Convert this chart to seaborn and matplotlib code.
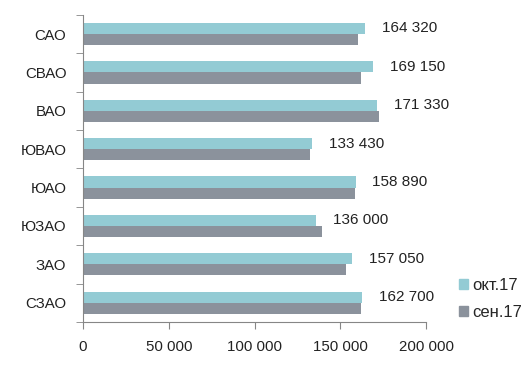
import numpy as np
import pandas as pd
import matplotlib
matplotlib.use('Agg')
import matplotlib.pyplot as plt
from matplotlib.ticker import FuncFormatter
import seaborn as sns

# ---------------------------------------------------------------------------
# Data
# ---------------------------------------------------------------------------

districts = ['САО', 'СВАО', 'ВАО', 'ЮВАО', 'ЮАО', 'ЮЗАО', 'ЗАО', 'СЗАО']
oct_17    = [164320, 169150, 171330, 133430, 158890, 136000, 157050, 162700]
sep_17    = [160200, 161900, 172400, 132400, 158400, 139400, 153200, 161900]
series    = ['окт.17', 'сен.17']
colors    = ['#93CBD4', '#8B929C']

df = pd.DataFrame({
    'district': districts * 2,
    'value'   : oct_17 + sep_17,
    'period'  : [series[0]] * len(districts) + [series[1]] * len(districts),
})

# ---------------------------------------------------------------------------
# Chart
# ---------------------------------------------------------------------------

sns.set_style('white')
plt.rcParams['font.family'] = ['Liberation Sans', 'DejaVu Sans']

fig, ax = plt.subplots(figsize=(5.26, 3.81), dpi=100)
fig.subplots_adjust(left=0.158, right=0.81, top=0.961, bottom=0.155)

sns.barplot(data=df, y='district', x='value', hue='period',
            order=districts, hue_order=series, palette=colors,
            orient='h', width=0.58, saturation=1, linewidth=0,
            ax=ax, legend=False)

def thousands(v, pos=None):
    return f'{int(round(v)):,}'.replace(',', ' ')

ax.bar_label(ax.containers[0], labels=[thousands(v) for v in oct_17],
             padding=12, fontsize=11, color='#222222')

ax.set_xlim(0, 200000)
ax.set_xticks(np.arange(0, 200001, 50000))
ax.xaxis.set_major_formatter(FuncFormatter(thousands))
ax.set_ylim(len(districts) - 0.5, -0.5)
ax.set_yticks(np.arange(-0.5, len(districts), 1), minor=True)
ax.set_xlabel('')
ax.set_ylabel('')

for s in ['top', 'right']:
    ax.spines[s].set_visible(False)
for s in ['left', 'bottom']:
    ax.spines[s].set_color('#868686')
    ax.spines[s].set_linewidth(0.8)

ax.tick_params(axis='y', which='major', length=0, labelsize=10.8, pad=12, labelcolor='#222222')
ax.tick_params(axis='y', which='minor', length=5, color='#868686', left=True)
ax.tick_params(axis='x', which='major', length=5, color='#868686', bottom=True,
               direction='out', labelsize=10.8, pad=8, labelcolor='#222222')

handles = [plt.Rectangle((0, 0), 1, 1, color=c) for c in colors]
fig.legend(handles, series, loc='center left', bbox_to_anchor=(0.872, 0.215),
           frameon=False, fontsize=12, handlelength=0.55, handleheight=0.55,
           handletextpad=0.25, labelspacing=0.75, borderpad=0, borderaxespad=0)

fig.savefig('out.png', dpi=100)
